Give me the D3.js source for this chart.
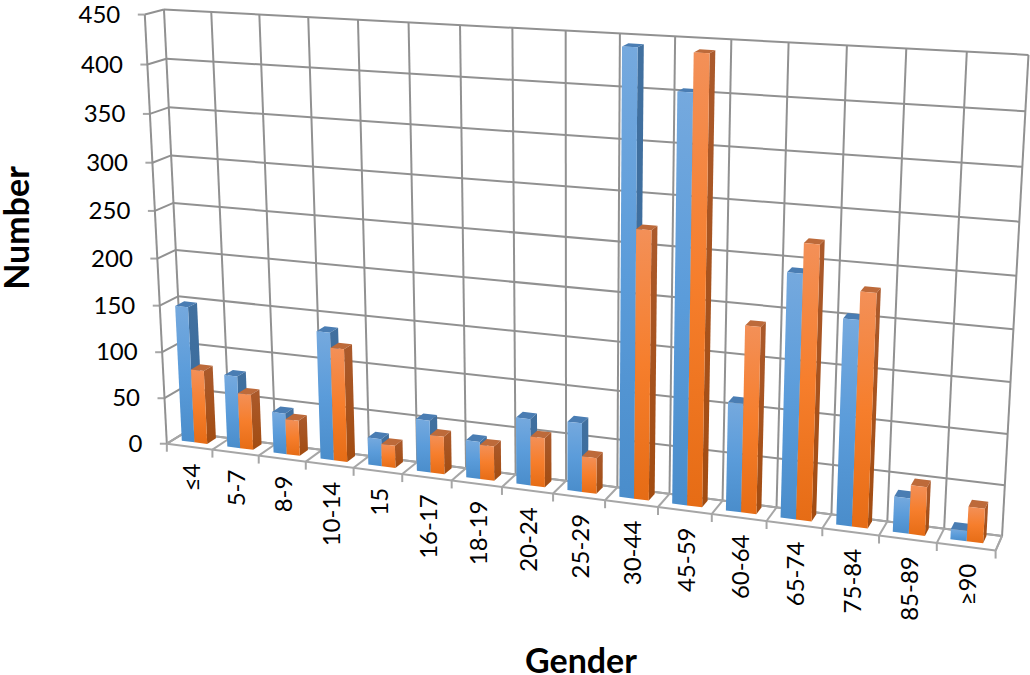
<!DOCTYPE html>
<html><head><meta charset="utf-8">
<script src="https://cdn.jsdelivr.net/npm/d3@7"></script>
<style>html,body{margin:0;background:#fff}svg{display:block}text{font-family:Lato,"Open Sans",sans-serif;fill:#000}</style>
</head><body><svg id="c" width="1030" height="675"></svg>
<script>
const categories=["≤4","5-7","8-9","10-14","15","16-17","18-19","20-24","25-29","30-44","45-59","60-64","65-74","75-84","85-89","≥90"];
const seriesNames=["a","b"];
const blueValues=[147,78,44,136,29,55,39,69,71,442,403,109,241,202,35,10];
const orangeValues=[80,60,38,120,24,40,36,51,37,270,440,186,270,229,48,34];
const yTicks=[0,50,100,150,200,250,300,350,400,450];
const xTitle="Gender", yTitle="Number";

// Camera calibration of the 3D frame: [u,v,h,x,y]
const frame=[[0,1,1,164.5,9],[1,1,1,1029,54],[1,1,0,1002,535],[0,1,0,183,434],[0,0,1,143,15],[0,0,0,168,443],[1,0,0,996,551],
[1/16,1,1,211.7,12.3],[2/16,1,1,259.3,15],[5/16,1,1,409,22],[12/16,1,1,788,42.7],[13/16,1,1,846.7,46],[15/16,1,1,966.7,52.3],
[1/16,0,0,213,449],[13/16,0,0,822,528.3],[14/16,0,0,879,535.7],[15/16,0,0,936.7,543.3],
[0,1,8/9,166.7,58.3],[0,1,7/9,169.3,106.7],[1,1,8/9,1026,111],[1,1,7/9,1021.7,166.7]];
function solveCamera(pts){
  const n=11,A=d3.range(n).map(()=>new Array(n+1).fill(0));
  const add=(r,t)=>{for(let i=0;i<n;i++){for(let j=0;j<n;j++)A[i][j]+=r[i]*r[j];A[i][n]+=r[i]*t;}};
  pts.forEach(([u,v,h,x,y])=>{
    add([u,v,h,1,0,0,0,0,-x*u,-x*v,-x*h],x);
    add([0,0,0,0,u,v,h,1,-y*u,-y*v,-y*h],y);
  });
  for(let c=0;c<n;c++){
    let m=c;for(let r=c+1;r<n;r++)if(Math.abs(A[r][c])>Math.abs(A[m][c]))m=r;
    [A[c],A[m]]=[A[m],A[c]];
    for(let r=0;r<n;r++){if(r===c)continue;const f=A[r][c]/A[c][c];for(let k=c;k<=n;k++)A[r][k]-=f*A[c][k];}
  }
  return A.map((r,i)=>r[n]/r[i]);
}
const P=solveCamera(frame);
const proj=(u,v,h)=>{const w=P[8]*u+P[9]*v+P[10]*h+1;return [(P[0]*u+P[1]*v+P[2]*h+P[3])/w,(P[4]*u+P[5]*v+P[6]*h+P[7])/w];};

const x=d3.scaleBand().domain(categories).range([-.002,.998]).paddingInner(.44).paddingOuter(.22);
const xs=d3.scaleBand().domain(seriesNames).range([0,x.bandwidth()]);
const y=d3.scaleLinear().domain([0,450]).range([0,1]);
const edge=i=>i/categories.length;
const V0=.36,V1=.86;

const svg=d3.select("#c");
const defs=svg.append("defs");
const grad=(id,stops)=>{const g=defs.append("linearGradient").attr("id",id).attr("x1",0).attr("x2",0).attr("y1",0).attr("y2",1);
  stops.forEach(([o,c])=>g.append("stop").attr("offset",o).attr("stop-color",c));};
grad("bf",[[0,"#75a9de"],[.5,"#5b9cda"],[1,"#4a8dcb"]]);
grad("bs",[[0,"#41709f"],[1,"#3a6c9d"]]);
grad("of",[[0,"#f39058"],[.5,"#f67e2c"],[1,"#e66c15"]]);
grad("os",[[0,"#ab5a2c"],[1,"#a24c11"]]);

const line=d3.line();
const G="#919191";
const grid=svg.append("g").attr("fill","none").attr("stroke",G).attr("stroke-width",2);
const seg=(a,b,c=G,w=2)=>grid.append("path").attr("d",line([proj(...a),proj(...b)])).attr("stroke",c).attr("stroke-width",w);
yTicks.forEach(t=>{const h=y(t);seg([0,0,h],[0,1,h]);seg([0,1,h],[1,1,h]);
  const p=proj(0,0,h);grid.append("path").attr("d",line([[p[0]-7,p[1]],p])).attr("stroke","#a6a6a6");
  svg.append("text").attr("x",p[0]-24.5).attr("y",p[1]+8).attr("text-anchor","end").attr("font-size",24).text(t);});
seg([0,0,0],[0,0,1]);
d3.range(categories.length+1).forEach(i=>{const u=edge(i);seg([u,1,0],[u,1,1]);seg([u,0,0],[u,1,0],"#a6a6a6");
  const p=proj(u,0,0);grid.append("path").attr("d",line([p,[p[0],p[1]+8]])).attr("stroke","#a6a6a6");});
seg([0,0,0],[1,0,0],"#a6a6a6");seg([0,1,0],[1,1,0],"#a6a6a6");seg([1,0,0],[1,1,0],"#a6a6a6");

const bars=svg.append("g");
const poly=(pts,fill)=>bars.append("polygon").attr("points",pts.map(p=>p.join(",")).join(" ")).attr("fill",fill);
categories.forEach((c,i)=>{
  [[seriesNames[0],blueValues[i],"bf","bs","#4a7db3"],[seriesNames[1],orangeValues[i],"of","os","#bd6a3a"]].forEach(([s,val,f,sd,tp])=>{
    const u0=x(c)+xs(s),u1=u0+xs.bandwidth(),h=y(val);
    poly([proj(u0,V1,h),proj(u1,V1,h),proj(u1,V0,h),proj(u0,V0,h)],tp);
    poly([proj(u1,V0,h),proj(u1,V1,h),proj(u1,V1,0),proj(u1,V0,0)],`url(#${sd})`);
    poly([proj(u0,V0,h),proj(u1,V0,h),proj(u1,V0,0),proj(u0,V0,0)],`url(#${f})`);
  });
  const p=proj((edge(i)+edge(i+1))/2,0,0);
  svg.append("text").attr("transform",`translate(${p[0]+10},${p[1]+17}) rotate(-90)`).attr("text-anchor","end").attr("font-size",24).text(c);
});
svg.append("text").attr("x",581).attr("y",673).attr("text-anchor","middle").attr("font-size",34).attr("font-weight",700).text(xTitle);
svg.append("text").attr("transform","translate(29,228) rotate(-90)").attr("text-anchor","middle").attr("font-size",34).attr("font-weight",700).text(yTitle);
</script></body></html>
